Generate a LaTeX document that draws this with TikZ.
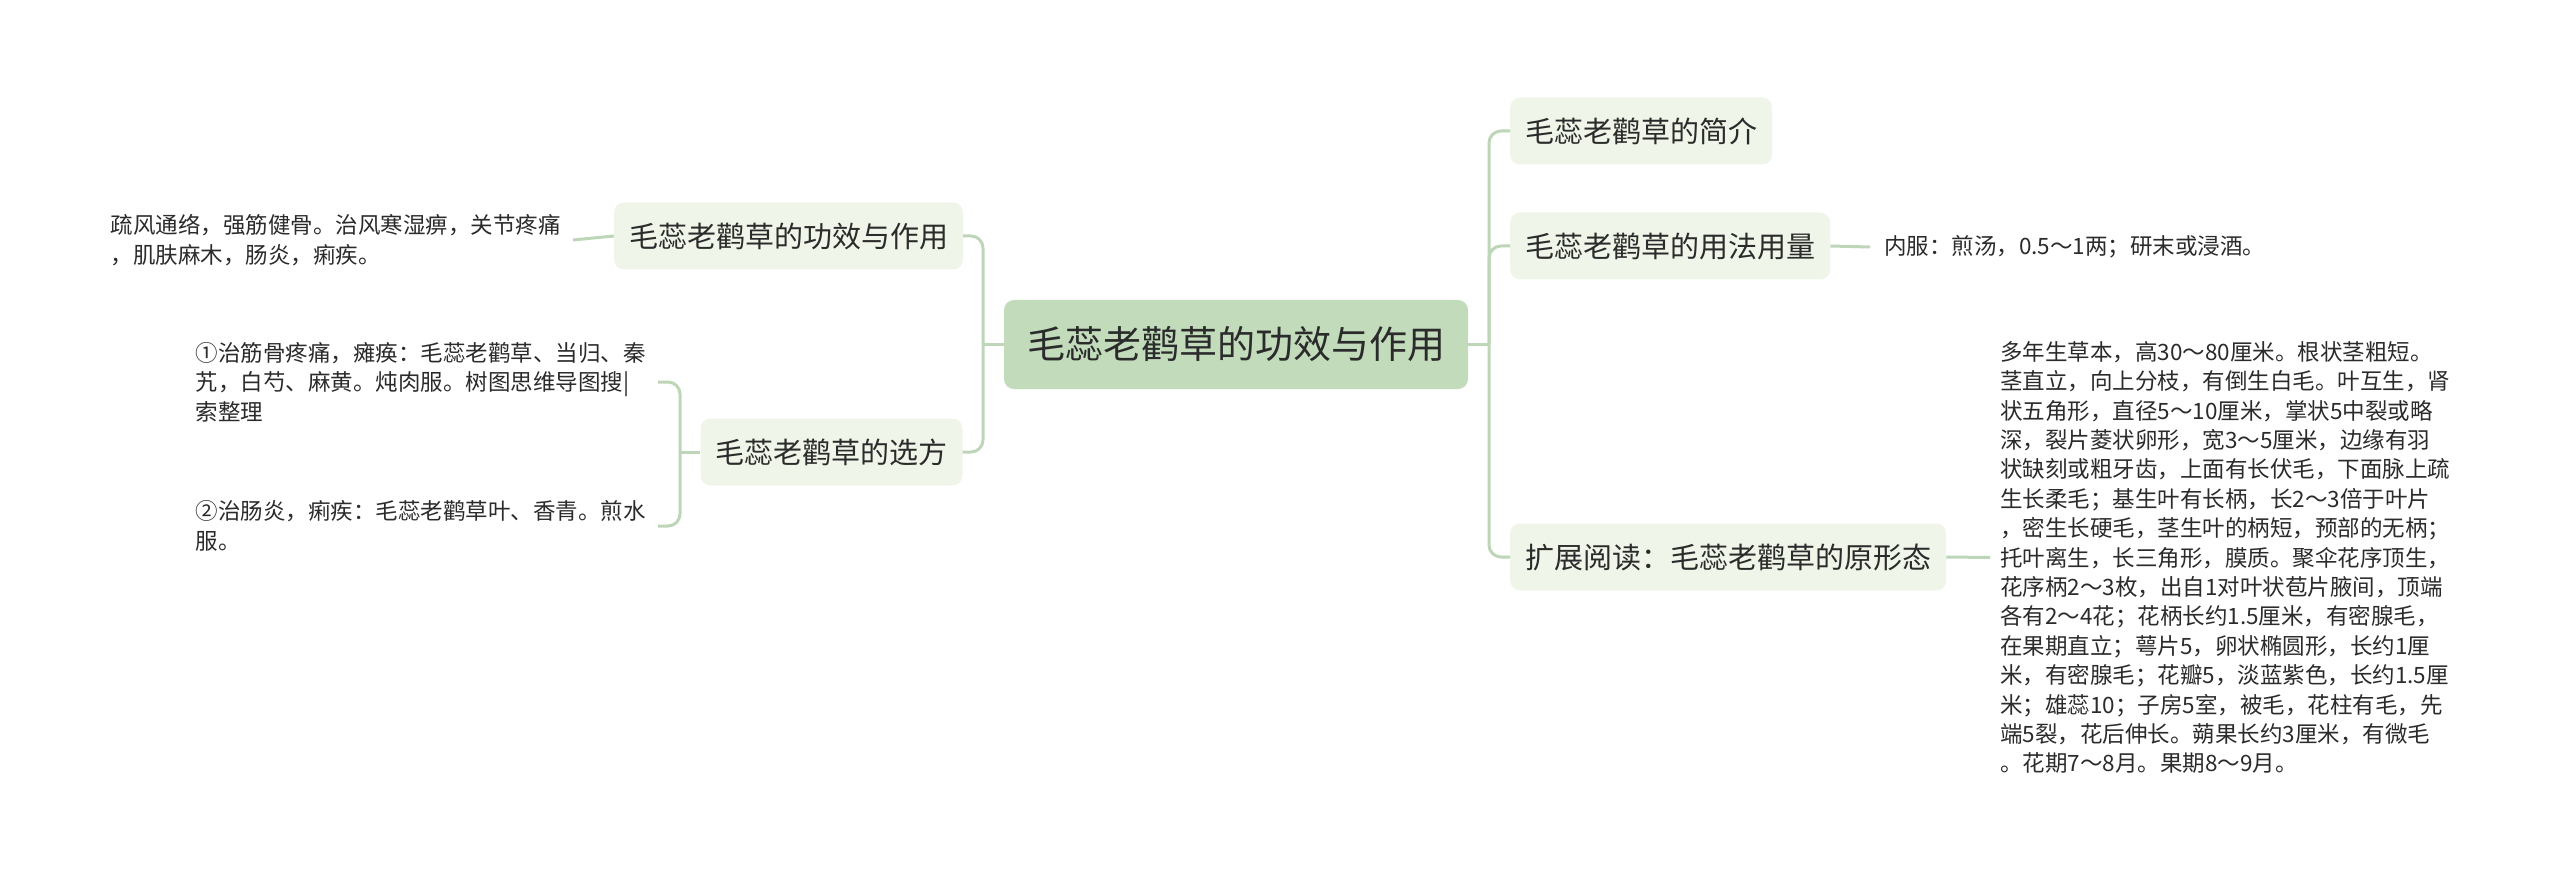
\documentclass[tikz,border=0pt]{standalone}
\usepackage{fontspec}
\setmainfont{Noto Sans CJK SC}
\definecolor{cfill}{HTML}{C1DBBB}
\definecolor{bfill}{HTML}{EFF5E8}
\definecolor{lcol}{HTML}{BDD6B7}
\definecolor{tcol}{HTML}{2B2B2B}
\begin{document}
\begin{tikzpicture}[x=1pt,y=-1pt,
  centralbox/.style={fill=cfill, rounded corners=10pt, inner xsep=23pt, inner ysep=0pt,
    minimum height=89pt, text=tcol, font=\fontsize{38}{44}\selectfont},
  branchbox/.style={fill=bfill, rounded corners=10pt, inner xsep=15pt, inner ysep=0pt,
    minimum height=67pt, text=tcol, font=\fontsize{29}{34}\selectfont},
  detail/.style={align=left, inner xsep=12pt, inner ysep=2pt, text=tcol,
    font=\fontsize{22.5}{29.4}\selectfont},
  conn/.style={draw=lcol, line width=3pt, rounded corners=12pt}]
\fill[white] (0,0) rectangle (2560,885);
\useasboundingbox (0,0) rectangle (2560,885);

% central
\node[centralbox] (c) at (1236,344.5) {毛蕊老鹳草的功效与作用};

% right branches
\node[branchbox, anchor=west] (r1) at (1510,131) {毛蕊老鹳草的简介};
\node[branchbox, anchor=west] (r2) at (1510,246) {毛蕊老鹳草的用法用量};
\node[branchbox, anchor=west] (r3) at (1510,557) {扩展阅读：毛蕊老鹳草的原形态};

% left branches
\node[branchbox] (l1) at (788.5,236) {毛蕊老鹳草的功效与作用};
\node[branchbox] (l2) at (831.5,452) {毛蕊老鹳草的选方};

% details
\node[detail, anchor=east] (lt) at (573,240) {疏风通络，强筋健骨。治风寒湿痹，关节疼痛\\，肌肤麻木，肠炎，痢疾。};
\node[detail, anchor=east] (lc1) at (658,382) {①治筋骨疼痛，瘫痪：毛蕊老鹳草、当归、秦\\艽，白芍、麻黄。炖肉服。树图思维导图搜|\\索整理};
\node[detail, anchor=east] (lc2) at (658,526) {②治肠炎，痢疾：毛蕊老鹳草叶、香青。煎水\\服。};
\node[detail, anchor=west, inner xsep=14pt] (r2t) at (1870,247) {内服：煎汤，0.5～1两；研末或浸酒。};
\node[detail, anchor=west, inner xsep=10pt] (r3t) at (1990,557.5) {多年生草本，高30～80厘米。根状茎粗短。\\茎直立，向上分枝，有倒生白毛。叶互生，肾\\状五角形，直径5～10厘米，掌状5中裂或略\\深，裂片菱状卵形，宽3～5厘米，边缘有羽\\状缺刻或粗牙齿，上面有长伏毛，下面脉上疏\\生长柔毛；基生叶有长柄，长2～3倍于叶片\\，密生长硬毛，茎生叶的柄短，预部的无柄；\\托叶离生，长三角形，膜质。聚伞花序顶生，\\花序柄2～3枚，出自1对叶状苞片腋间，顶端\\各有2～4花；花柄长约1.5厘米，有密腺毛，\\在果期直立；萼片5，卵状椭圆形，长约1厘\\米，有密腺毛；花瓣5，淡蓝紫色，长约1.5厘\\米；雄蕊10；子房5室，被毛，花柱有毛，先\\端5裂，花后伸长。蒴果长约3厘米，有微毛\\。花期7～8月。果期8～9月。};

% junction coordinates
\coordinate (jR) at (1489,344.5);
\coordinate (jL) at (983,344.5);
\coordinate (jL2) at (680,452);

% connectors
\draw[conn] (c.east) -- (jR);
\draw[conn] (jR) |- (r1.west);
\draw[conn] (jR) |- (r2.west);
\draw[conn] (jR) |- (r3.west);
\draw[conn] (c.west) -- (jL);
\draw[conn] (jL) |- (l1.east);
\draw[conn] (jL) |- (l2.east);
\draw[conn] (l1.west) -- (lt.east);
\draw[conn] (l2.west) -- (jL2);
\draw[conn] (jL2) |- (lc1.east);
\draw[conn] (jL2) |- (lc2.east);
\draw[conn] (r2.east) -- (r2t.west);
\draw[conn] (r3.east) -- (r3t.west);
\end{tikzpicture}
\end{document}
